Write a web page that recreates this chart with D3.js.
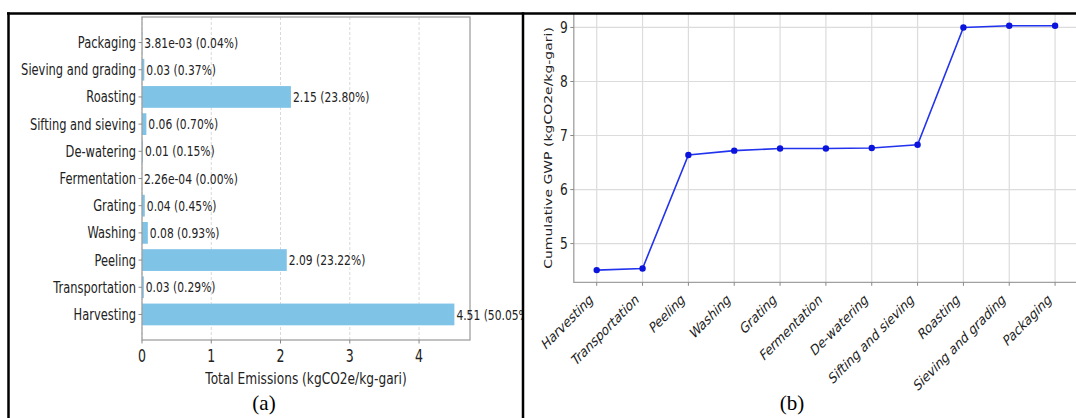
<!DOCTYPE html>
<html>
<head>
<meta charset="utf-8">
<script src="https://cdn.jsdelivr.net/npm/d3@7"></script>
<style>
  body { margin: 0; background: #fff; }
  svg text { font-family: "DejaVu Sans", sans-serif; fill: #222; }
</style>
</head>
<body>
<script>
// stages of gari production, bottom to top in panel (a), left to right in panel (b)
var categories = ["Harvesting", "Transportation", "Peeling", "Washing", "Grating", "Fermentation",
                  "De-watering", "Sifting and sieving", "Roasting", "Sieving and grading", "Packaging"];

// total emissions per stage (kgCO2e/kg-gari)
var emissions = [4.51, 0.026, 2.09, 0.084, 0.0405, 0.000226, 0.0135, 0.063, 2.15, 0.0333, 0.00381];
var valueLabels = ["4.51", "0.03", "2.09", "0.08", "0.04", "2.26e-04", "0.01", "0.06", "2.15", "0.03", "3.81e-03"];
var shareLabels = ["50.05%", "0.29%", "23.22%", "0.93%", "0.45%", "0.00%", "0.15%", "0.70%", "23.80%", "0.37%", "0.04%"];

// cumulative GWP after each stage
var cumulativeGWP = [4.51, 4.54, 6.64, 6.72, 6.76, 6.76, 6.77, 6.83, 9.00, 9.03, 9.03];

var barTicks = [0, 1, 2, 3, 4];
var gwpTicks = [5, 6, 7, 8, 9];

window.onload = drawFigure();

function drawFigure(){

    var width = 1076,
        height = 418;

    // the source picture is squeezed sideways, so text is narrowed too
    var sx = 0.74;

    var svg = d3.select("body")
        .append("svg")
        .attr("width", width)
        .attr("height", height);

    function label(g, x, y, str, size, anchor, rot){
        return g.append("text")
            .attr("transform", "translate(" + x + "," + y + ") scale(" + sx + ",1)" + (rot ? " rotate(" + rot + ")" : ""))
            .attr("font-size", size)
            .attr("text-anchor", anchor || "start")
            .text(str);
    }

    //---------------- panel (a): horizontal bars ----------------
    svg.append("clipPath").attr("id", "clipA")
        .append("rect").attr("x", 0).attr("y", 0).attr("width", 522).attr("height", height);

    var a = svg.append("g").attr("clip-path", "url(#clipA)");

    var ax0 = 142, ax1 = 470, ay0 = 17, ay1 = 340;

    var x = d3.scaleLinear()
        .domain([0, d3.max(emissions) * 1.05])
        .range([ax0, ax1]);

    // matplotlib style margins around the bar stack
    var y = d3.scaleLinear()
        .domain([-0.94, categories.length - 1 + 0.94])
        .range([ay1, ay0]);

    var barH = y(0) - y(0.8);

    // dashed vertical grid
    a.selectAll(".gridA")
        .data(barTicks)
        .enter()
        .append("line")
        .attr("class", "gridA")
        .attr("x1", function(d){ return x(d); })
        .attr("x2", function(d){ return x(d); })
        .attr("y1", ay0)
        .attr("y2", ay1)
        .attr("stroke", "#d9d9d9")
        .attr("stroke-width", 1)
        .attr("stroke-dasharray", "3,2");

    // bars
    a.selectAll(".bar")
        .data(emissions)
        .enter()
        .append("rect")
        .attr("class", "bar")
        .attr("x", x(0))
        .attr("y", function(d, i){ return y(i) - barH / 2; })
        .attr("width", function(d){ return x(d) - x(0); })
        .attr("height", barH)
        .attr("fill", "#7fc3e7");

    // frame
    a.append("rect")
        .attr("x", ax0).attr("y", ay0)
        .attr("width", ax1 - ax0).attr("height", ay1 - ay0)
        .attr("fill", "none")
        .attr("stroke", "#a0a0a0")
        .attr("stroke-width", 1.3);

    // category ticks and labels
    categories.forEach(function(c, i){
        a.append("line")
            .attr("x1", ax0 - 3.5).attr("x2", ax0)
            .attr("y1", y(i)).attr("y2", y(i))
            .attr("stroke", "#888");
        label(a, ax0 - 6, y(i), c, 15.5, "end").attr("dy", "0.35em");
    });

    // value labels
    emissions.forEach(function(v, i){
        label(a, x(v) + 2, y(i), valueLabels[i] + " (" + shareLabels[i] + ")", 14.5, "start").attr("dy", "0.35em");
    });

    // x axis ticks
    barTicks.forEach(function(t){
        a.append("line")
            .attr("x1", x(t)).attr("x2", x(t))
            .attr("y1", ay1).attr("y2", ay1 + 3.5)
            .attr("stroke", "#888");
        label(a, x(t), 362, t, 17, "middle");
    });

    label(a, (ax0 + ax1) / 2, 384, "Total Emissions (kgCO2e/kg-gari)", 16.5, "middle");

    a.append("text")
        .attr("x", 264).attr("y", 410)
        .attr("text-anchor", "middle")
        .attr("font-size", 21)
        .style("font-family", "'Liberation Serif', serif")
        .style("fill", "#000")
        .text("(a)");

    //---------------- panel (b): cumulative line ----------------
    var b = svg.append("g");

    var bx0 = 573.8, bx1 = 1078, by0 = 13.6, by1 = 282.3;

    var xb = d3.scaleLinear()
        .domain([-0.5, categories.length - 0.5])
        .range([bx0, bx1]);

    var yb = d3.scaleLinear()
        .domain([d3.min(cumulativeGWP) - 0.226, d3.max(cumulativeGWP) + 0.226])
        .range([by1, by0]);

    // grid
    b.selectAll(".gridX")
        .data(categories)
        .enter()
        .append("line")
        .attr("class", "gridX")
        .attr("x1", function(d, i){ return xb(i); })
        .attr("x2", function(d, i){ return xb(i); })
        .attr("y1", by0).attr("y2", by1)
        .attr("stroke", "#dcdcdc")
        .attr("stroke-width", 1.2);

    b.selectAll(".gridY")
        .data(gwpTicks)
        .enter()
        .append("line")
        .attr("class", "gridY")
        .attr("x1", bx0).attr("x2", bx1)
        .attr("y1", function(d){ return yb(d); })
        .attr("y2", function(d){ return yb(d); })
        .attr("stroke", "#dcdcdc")
        .attr("stroke-width", 1.2);

    // spines
    b.append("path")
        .attr("d", "M" + bx0 + "," + by0 + "V" + by1 + "H" + bx1)
        .attr("fill", "none")
        .attr("stroke", "#a0a0a0")
        .attr("stroke-width", 1.3);

    // line and markers
    var line = d3.line()
        .x(function(d, i){ return xb(i); })
        .y(function(d){ return yb(d); });

    b.append("path")
        .datum(cumulativeGWP)
        .attr("d", line)
        .attr("fill", "none")
        .attr("stroke", "#2233ee")
        .attr("stroke-width", 1.6);

    b.selectAll(".pt")
        .data(cumulativeGWP)
        .enter()
        .append("circle")
        .attr("class", "pt")
        .attr("cx", function(d, i){ return xb(i); })
        .attr("cy", function(d){ return yb(d); })
        .attr("r", 3.2)
        .attr("fill", "#0a14dd");

    // y ticks
    gwpTicks.forEach(function(t){
        b.append("line")
            .attr("x1", bx0 - 3.5).attr("x2", bx0)
            .attr("y1", yb(t)).attr("y2", yb(t))
            .attr("stroke", "#888");
        label(b, bx0 - 6, yb(t), t, 16.5, "end").attr("dy", "0.35em");
    });

    // x ticks, rotated labels
    categories.forEach(function(c, i){
        b.append("line")
            .attr("x1", xb(i)).attr("x2", xb(i))
            .attr("y1", by1).attr("y2", by1 + 3.5)
            .attr("stroke", "#888");
        label(b, xb(i) - 3, by1 + 19, c, 15, "end", -37);
    });

    label(b, 552, (by0 + by1) / 2, "Cumulative GWP (kgCO2e/kg-gari)", 14, "middle", -90);

    b.append("text")
        .attr("x", 792).attr("y", 410)
        .attr("text-anchor", "middle")
        .attr("font-size", 21)
        .style("font-family", "'Liberation Serif', serif")
        .style("fill", "#000")
        .text("(b)");

    //---------------- outer frame ----------------
    var frame = svg.append("g")
        .attr("stroke", "#000")
        .attr("stroke-width", 2.5);

    frame.append("line").attr("x1", 7).attr("x2", width).attr("y1", 13.5).attr("y2", 13.5);
    frame.append("line").attr("x1", 8.5).attr("x2", 8.5).attr("y1", 12.3).attr("y2", height);
    frame.append("line").attr("x1", 523).attr("x2", 523).attr("y1", 12.3).attr("y2", height);
}
</script>
</body>
</html>
